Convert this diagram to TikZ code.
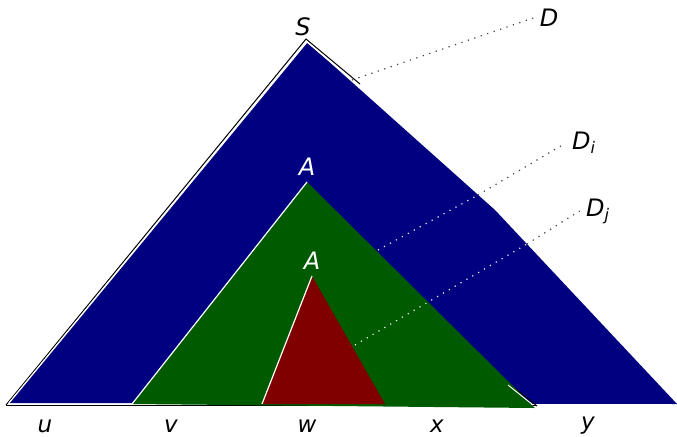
\documentclass[tikz,border=0pt]{standalone}
\usepackage{fontspec}
\setmainfont{DejaVu Sans}
\usetikzlibrary{positioning}
\definecolor{treenavy}{RGB}{0,0,128}
\definecolor{treegreen}{RGB}{0,90,0}
\definecolor{treered}{RGB}{128,0,0}

\begin{document}
\begin{tikzpicture}[x=0.5pt, y=-0.5pt,
    tree/.style={draw=white, line width=0.6pt},
    lbl/.style={font=\fontsize{12}{14}\selectfont\itshape, inner sep=3pt},
    word/.style={font=\fontsize{11.5}{14}\selectfont\itshape},
    pointer/.style={dash pattern=on 0.6pt off 2.8pt, line width=0.6pt, black!75},
    pointerin/.style={pointer, white!85!gray}
]
\useasboundingbox (0,0) rectangle (677,436);

% apexes of the three subtrees
\coordinate (apexS) at (307,42);
\coordinate (apexA) at (307,182);
\coordinate (apexB) at (312,276);

% outer tree D
\draw[black, line width=0.5pt] (6,405) -- (306,39) -- (360,84);
\draw[black, line width=0.5pt] (6,405) -- (536,405);
\fill[treenavy] (9,403) -- (apexS) -- (495,210) -- (677,404) -- cycle;
\draw[white, line width=0.6pt] (9,403) -- (apexS) -- (352,80);

% subtree D_i
\draw[black, line width=0.5pt] (512,386) -- (537,406);
\fill[treegreen] (132,404) -- (apexA) -- (535,408) -- cycle;
\draw[tree] (132,404) -- (apexA);
\draw[white, line width=0.5pt] (508,385) -- (533,405);

% subtree D_j
\fill[treered] (262,404) -- (apexB) -- (385,404) -- cycle;
\draw[tree] (262,404) -- (apexB);

% labels
\node[lbl, above=0pt of apexS, xshift=-2pt] (S) {S};
\node[lbl, white, above=0pt of apexA] (A1) {A};
\node[lbl, white, above=0pt of apexB] (A2) {A};

\node[lbl] (D) at (549,18) {D};
\node[lbl] (Di) at (584,143) {D\textsubscript{i}};
\node[lbl] (Dj) at (598,211) {D\textsubscript{j}};

\coordinate (edgeD) at (352,80);
\coordinate (edgeDi) at (378,250);
\coordinate (edgeDj) at (355,345);
% where the pointers leave the navy tree
\coordinate (exitDi) at (478,195);
\coordinate (exitDj) at (527,244);

\draw[pointer] (edgeD) -- (D.west);
\draw[pointerin] (edgeDi) -- (exitDi);
\draw[pointer] (exitDi) -- (Di.west);
\draw[pointerin] (edgeDj) -- (exitDj);
\draw[pointer] (exitDj) -- (Dj.west);

% yield u v w x y
\node[word] (u) at (45,426) {u};
\node[word] (v) at (171,426) {v};
\node[word] (w) at (307,426) {w};
\node[word] (x) at (437,426) {x};
\node[word] (y) at (588,426) {y};

\end{tikzpicture}
\end{document}
